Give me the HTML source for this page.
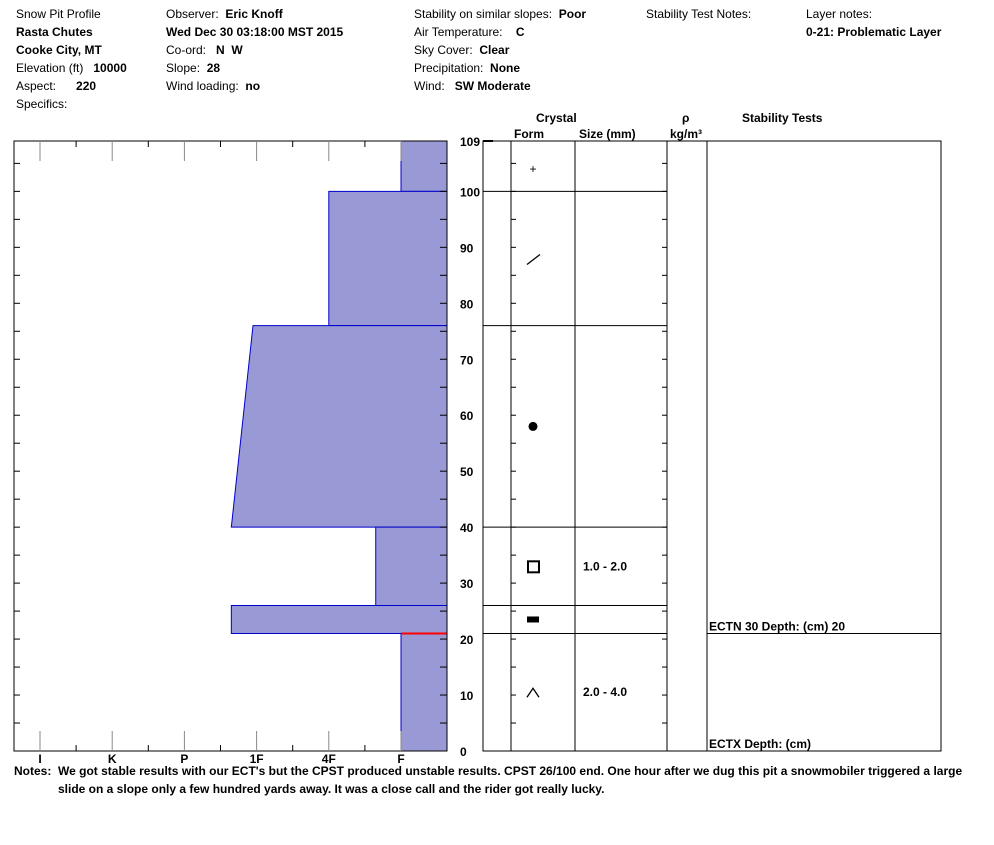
<!DOCTYPE html>
<html><head><meta charset="utf-8"><style>
body{margin:0;background:#fff;width:994px;height:840px;overflow:hidden;font-family:"Liberation Sans",Arial,sans-serif;}
svg text{font-family:"Liberation Sans",Arial,sans-serif;font-size:12px;fill:#000;}
.b{font-weight:bold;}
</style></head><body>
<svg id="c" width="994" height="840">
<g>
<text x="16" y="18">Snow Pit Profile</text>
<text x="16" y="36" class="b">Rasta Chutes</text>
<text x="16" y="54" class="b">Cooke City, MT</text>
<text x="16" y="72">Elevation (ft)&#160;&#160;&#160;<tspan class="b">10000</tspan></text>
<text x="16" y="90">Aspect:&#160;&#160;&#160;&#160;&#160;&#160;<tspan class="b">220</tspan></text>
<text x="16" y="108">Specifics:</text>
<text x="166" y="18">Observer:&#160;&#160;<tspan class="b">Eric Knoff</tspan></text>
<text x="166" y="36" class="b">Wed Dec 30 03:18:00 MST 2015</text>
<text x="166" y="54">Co-ord:&#160;&#160;&#160;<tspan class="b">N&#160;&#160;W</tspan></text>
<text x="166" y="72">Slope:&#160;&#160;<tspan class="b">28</tspan></text>
<text x="166" y="90">Wind loading:&#160;&#160;<tspan class="b">no</tspan></text>
<text x="414" y="18">Stability on similar slopes:&#160;&#160;<tspan class="b">Poor</tspan></text>
<text x="414" y="36">Air Temperature:&#160;&#160;&#160;&#160;<tspan class="b">C</tspan></text>
<text x="414" y="54">Sky Cover:&#160;&#160;<tspan class="b">Clear</tspan></text>
<text x="414" y="72">Precipitation:&#160;&#160;<tspan class="b">None</tspan></text>
<text x="414" y="90">Wind:&#160;&#160;&#160;<tspan class="b">SW Moderate</tspan></text>
<text x="646" y="18">Stability Test Notes:</text>
<text x="806" y="18">Layer notes:</text>
<text x="806" y="36" class="b">0-21: Problematic Layer</text>
</g>
<g class="b">
<text x="536" y="122" class="b">Crystal</text>
<text x="514" y="138" class="b">Form</text>
<text x="579" y="138" class="b">Size (mm)</text>
<text x="682" y="122" class="b">ρ</text>
<text x="670" y="138" class="b">kg/m³</text>
<text x="742" y="122" class="b">Stability Tests</text>
</g>
<g id="bars"></g>
<g id="axes"></g>
<g>
<text x="14" y="775" class="b">Notes:&#160;&#160;We got stable results with our ECT's but the CPST produced unstable results. CPST 26/100 end. One hour after we dug this pit a snowmobiler triggered a large</text>
<text x="58" y="793" class="b">slide on a slope only a few hundred yards away. It was a close call and the rider got really lucky.</text>
</g>
</svg>
<script>
// Data
const layerTops=[109,100,76,40,26,21];
const layerBottoms=[100,76,40,26,21,0];
const hardTop=[5,4,2.95,4.65,2.65,5];   // hardness index at top of layer (I=0,K=1,P=2,1F=3,4F=4,F=5)
const hardBot=[5,4,2.65,4.65,2.65,5];
const hardLabels=["I","K","P","1F","4F","F"];
const depthTicks=[0,10,20,30,40,50,60,70,80,90,100,109];
const formSymbols=["+","/","●","□","▬","^"];
const sizes=["","","","1.0 - 2.0","","2.0 - 4.0"];
const testLabels=["ECTN 30   Depth: (cm) 20","ECTX   Depth: (cm)"];
const testDepths=[21,0];

const NS="http://www.w3.org/2000/svg";
const Y0=751,Y1=141,MAXD=109;
const y=d=>Y0-(Y0-Y1)*d/MAXD;
const x=h=>40+h*72.2;
const RX=447;
function mk(t,a,p){const e=document.createElementNS(NS,t);for(const k in a)e.setAttribute(k,a[k]);p.appendChild(e);return e;}
const bars=document.getElementById('bars'),ax=document.getElementById('axes');

layerTops.forEach((t,i)=>{
  const b=layerBottoms[i];
  const p=mk('polygon',{points:`${x(hardTop[i])},${y(t)} ${RX},${y(t)} ${RX},${y(b)} ${x(hardBot[i])},${y(b)}`,fill:'#9999d6',stroke:'#0000cc','stroke-width':1},bars);
  
  
});
const red=mk('line',{x1:x(5),x2:RX,y1:y(21),y2:y(21),stroke:'#ff0000','stroke-width':2},bars);



// frame
const fr=mk('rect',{x:14,y:Y1,width:RX-14,height:Y0-Y1,fill:'none',stroke:'#000'},ax);


// depth ticks every 5
for(let d=5;d<MAXD;d+=5){
  mk('line',{x1:14,x2:20,y1:y(d),y2:y(d),stroke:'#000'},ax);
  mk('line',{x1:RX-7,x2:RX,y1:y(d),y2:y(d),stroke:'#000'},ax);
  mk('line',{x1:511,x2:516,y1:y(d),y2:y(d),stroke:'#000'},ax);
  mk('line',{x1:662,x2:667,y1:y(d),y2:y(d),stroke:'#000'},ax);
}
mk('line',{x1:483,x2:493,y1:Y1,y2:Y1,stroke:'#000','stroke-width':2},ax);
// hardness ticks
for(let k=0;k<11;k++){
  const xx=40+k*36.1, major=k%2==0;
  mk('line',{x1:xx,x2:xx,y1:Y0,y2:Y0-(major?20:6),stroke:major?'#888':'#000'},ax);
  mk('line',{x1:xx,x2:xx,y1:Y1,y2:Y1+(major?20:6),stroke:major?'#888':'#000'},ax);
}
hardLabels.forEach((l,i)=>{
  const t=mk('text',{x:x(i),y:763,'text-anchor':'middle','font-weight':'bold'},ax);t.textContent=l;
  
  
});
depthTicks.forEach(d=>{
  const t=mk('text',{x:460,y:y(d)+5,'font-weight':'bold'},ax);t.textContent=d;
  
  
});
// table
const tb=mk('rect',{x:483,y:Y1,width:458,height:Y0-Y1,fill:'none',stroke:'#000'},ax);


[511,575,667,707].forEach(cx=>mk('line',{x1:cx,x2:cx,y1:Y1,y2:Y0,stroke:'#000'},ax));
layerBottoms.forEach((b,i)=>{
  if(b>0)mk('line',{x1:483,x2:667,y1:y(b),y2:y(b),stroke:'#000'},ax);
  const mid=y((layerTops[i]+b)/2);
  const s=formSymbols[i];
  let e;
  if(s=="+"){e=mk('text',{x:533,y:mid+7,'text-anchor':'middle','font-size':20},ax);e.textContent='+';}
  else if(s=="/"){e=mk('line',{x1:527,y1:mid+6,x2:540,y2:mid-4,stroke:'#000','stroke-width':1.3},ax);}
  else if(s=="●"){e=mk('circle',{cx:533,cy:mid,r:4.5,fill:'#000'},ax);}
  else if(s=="□"){e=mk('rect',{x:528,y:mid-5,width:11,height:11,fill:'none',stroke:'#000','stroke-width':2},ax);}
  else if(s=="▬"){e=mk('rect',{x:527,y:mid-3,width:12,height:6,fill:'#000'},ax);}
  else {e=mk('polyline',{points:`527,${mid+5} 533,${mid-4} 539,${mid+5}`,fill:'none',stroke:'#000','stroke-width':1.3},ax);}
  
  
  if(sizes[i]){const t=mk('text',{x:583,y:mid+4,'font-weight':'bold'},ax);t.textContent=sizes[i];
    
    }
});
testLabels.forEach((l,i)=>{
  const yy=y(testDepths[i]);
  if(testDepths[i]>0)mk('line',{x1:707,x2:941,y1:yy,y2:yy,stroke:'#000'},ax);
  const t=mk('text',{x:709,y:yy-3,'font-weight':'bold','xml:space':'preserve'},ax);t.textContent=l;
  
  
});
</script>
</body></html>
